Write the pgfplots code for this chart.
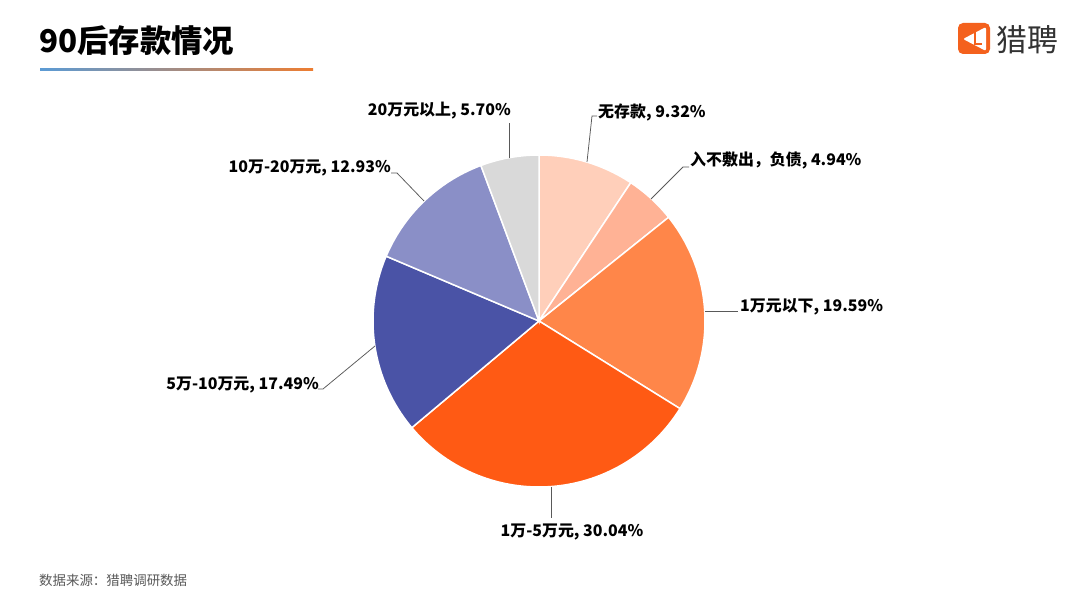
\documentclass[border=0pt]{standalone}
\usepackage{fontspec}
\setmainfont{Noto Sans CJK SC}
\usepackage{pgfplots}
\usepackage{pgfplotstable}
\pgfplotsset{compat=1.18}

\definecolor{c1}{HTML}{FFCFBA}
\definecolor{c2}{HTML}{FFB295}
\definecolor{c3}{HTML}{FF8649}
\definecolor{c4}{HTML}{FF5A14}
\definecolor{c5}{HTML}{4A53A6}
\definecolor{c6}{HTML}{8A8FC7}
\definecolor{c7}{HTML}{D9D9D9}
\definecolor{leader}{HTML}{595959}
\definecolor{logo}{HTML}{F4611D}

% share of each group, clockwise from 12 o'clock
\pgfplotstableread[col sep=comma]{
group,value,colour
none,9.32,c1
debt,4.94,c2
lt1,19.59,c3
1to5,30.04,c4
5to10,17.49,c5
10to20,12.93,c6
gt20,5.70,c7
}\piedata

\newcommand\lab[1]{\fontsize{16}{18}\selectfont\bfseries #1}

\begin{document}
\begin{tikzpicture}
\fill[white] (0,0) rectangle (1080bp,608bp);
\begin{axis}[
  scale only axis,
  width=1080bp, height=608bp,
  xmin=0, xmax=1080, ymin=0, ymax=608,
  axis lines=none,
  clip=false,
]
% slices
\xdef\angstart{90}
\pgfplotsforeachungrouped \i in {0,...,6}{%
  \pgfplotstablegetelem{\i}{value}\of\piedata \let\v\pgfplotsretval
  \pgfplotstablegetelem{\i}{colour}\of\piedata \let\c\pgfplotsretval
  \pgfmathsetmacro{\angend}{\angstart-3.6*\v}%
  \edef\doslice{\noexpand\addplot[fill=\c, draw=white, line width=1.5bp,
      domain=\angend:\angstart, samples=80, variable=\noexpand\t]
      ({539+166*cos(\noexpand\t)},{287+166*sin(\noexpand\t)}) -- (539,287) -- cycle;}%
  \doslice
  \xdef\angstart{\angend}%
}

% leader lines
\draw[leader, line width=0.75bp] (509.5,450) -- (509.5,485);
\draw[leader, line width=0.75bp] (587,446) -- (592,492) -- (597,492);
\draw[leader, line width=0.75bp] (651,409) -- (683,441) -- (689,441);
\draw[leader, line width=0.75bp] (705,297) -- (738,297);
\draw[leader, line width=0.75bp] (551,121) -- (551,90);
\draw[leader, line width=0.75bp] (375,262) -- (323,219) -- (318,219);
\draw[leader, line width=0.75bp] (424,407) -- (397,435) -- (391,435);

% labels
\node[anchor=east, inner sep=0] at (511,497) {\lab{20万元以上, 5.70\%}};
\node[anchor=west, inner sep=0] at (598,496) {\lab{无存款, 9.32\%}};
\node[anchor=west, inner sep=0] at (690,448) {\lab{入不敷出，负债, 4.94\%}};
\node[anchor=west, inner sep=0] at (740,301) {\lab{1万元以下, 19.59\%}};
\node[inner sep=0] at (572,76) {\lab{1万-5万元, 30.04\%}};
\node[anchor=east, inner sep=0] at (319,223) {\lab{5万-10万元, 17.49\%}};
\node[anchor=east, inner sep=0] at (391,440) {\lab{10万-20万元, 12.93\%}};

% title and underline
\node[anchor=west, inner sep=0] at (39,567) {\fontsize{31.5}{33}\selectfont\bfseries 90后存款情况};
\shade[left color={rgb,255:red,91;green,155;blue,213}, right color={rgb,255:red,237;green,125;blue,49}]
  (40,537) rectangle (313,539.5);

% logo
\fill[logo, rounded corners=5bp] (958,554) rectangle (990,585);
\fill[white, rounded corners=2bp] (963,569) -- (986,581) -- (986,557) -- cycle;
\draw[logo, line width=2.2bp] (975,576) -- (975,564) -- (982,564);
\node[anchor=west, inner sep=0, text={rgb,255:red,51;green,51;blue,51}] at (996,568)
  {\fontsize{31}{33}\selectfont 猎聘};

% source
\node[anchor=west, inner sep=0, text={rgb,255:red,89;green,89;blue,89}] at (39,28)
  {\fontsize{13.5}{15}\selectfont 数据来源：猎聘调研数据};
\end{axis}
\end{tikzpicture}
\end{document}
